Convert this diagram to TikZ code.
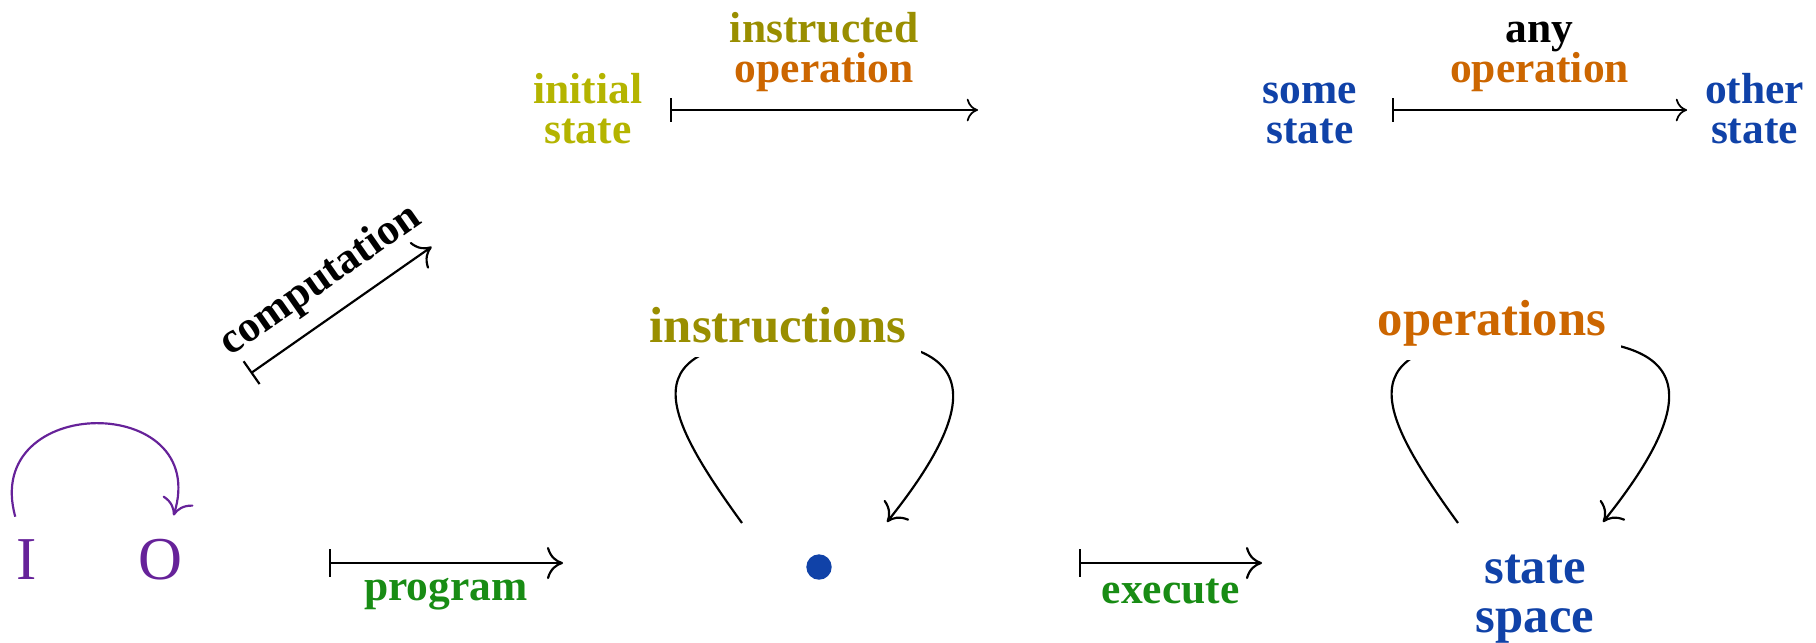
\documentclass[tikz,border=0pt]{standalone}
\usepackage{fontspec}
\setmainfont{Liberation Serif}
\usetikzlibrary{arrows.meta,calc}

\definecolor{iniYellow}{RGB}{180,180,0}
\definecolor{instrOlive}{RGB}{153,142,0}
\definecolor{opOrange}{RGB}{204,102,0}
\definecolor{stBlue}{RGB}{16,66,168}
\definecolor{progGreen}{RGB}{24,140,20}
\definecolor{ioPurple}{RGB}{102,34,153}

\begin{document}
\begin{tikzpicture}[x=0.23pt,y=0.23pt,
  txt/.style={font=\fontsize{10}{9.2}\selectfont\bfseries, align=center, inner sep=3.33pt},
  bigtxt/.style={font=\fontsize{11.66}{11.27}\selectfont\bfseries, align=center, inner sep=3.33pt},
  iotxt/.style={font=\fontsize{14}{16}\selectfont, text=ioPurple, inner sep=3.33pt},
  mapsto/.style={line width=0.5pt, {Bar[width=6.4pt]}-{Computer Modern Rightarrow[length=3.7pt,width=7.4pt]}},
  topmap/.style={line width=0.4pt, {Bar[width=5.3pt]}-{Computer Modern Rightarrow[length=2.6pt,width=5.2pt]}},
  loopline/.style={line width=0.5pt, -{Computer Modern Rightarrow[length=3.7pt,width=7.4pt]}},
]
\useasboundingbox (0,0) rectangle (1816,642);

% ---- top row: single steps (base = baseline of the last line) ----
\coordinate (r1) at (0,532);
\node[txt, text=iniYellow, anchor=base] (ini) at (588,499) {initial\\state};
\coordinate (e1) at (978,532);
\draw[topmap] ([xshift=2.9pt]ini.east |- r1) -- (e1)
  node[midway, above=0.7pt, txt] {\textcolor{instrOlive}{instructed}\\\textcolor{opOrange}{operation}};

\node[txt, text=stBlue, anchor=base] (some) at (1310,499) {some\\state};
\node[txt, text=stBlue, anchor=base] (other) at (1754.5,499) {other\\state};
\draw[topmap] ([xshift=4.5pt]some.east |- r1) -- ([xshift=-0.6pt]other.west |- r1)
  node[midway, above=0.7pt, txt] {any\\\textcolor{opOrange}{operation}};

% ---- input / output ----
\node[iotxt, anchor=base] (I) at (27,63) {I};
\node[iotxt, anchor=base] (O) at (160,63) {O};
\draw[loopline, ioPurple, shorten <=1.7pt, shorten >=1.9pt]
  (I) .. controls (-19,249) and (212,250) .. (O);

% ---- computation ----
\coordinate (c0) at (250.7,268.7);
\coordinate (c1) at (431.7,395.3);
\draw[mapsto] (c0) -- (c1) node[midway, sloped, above, txt] {computation};

% ---- program ----
\coordinate (p0) at (329,79);
\coordinate (p1) at (563,79);
\draw[mapsto] (p0) -- (p1) node[midway, below, txt, text=progGreen] {program};

% ---- program as a point with its instruction loop ----
\node[circle, fill=stBlue, inner sep=0pt, minimum size=5.84pt] (dot) at (819,75) {};
\draw[loopline]
  ([shift={(-77,44)}]dot.center) .. controls +(-88.2,121.4) and +(-180,0) ..
  ([shift={(-7,229)}]dot.center) .. controls +(120,0) and +(131.25,164) ..
  ([shift={(68,45)}]dot.center);
\node[bigtxt, text=instrOlive, fill=white, anchor=base] (ins) at (778,300) {instructions};

% ---- execute ----
\coordinate (x0) at (1079,79);
\coordinate (x1) at (1262,79);
\draw[mapsto] (x0) -- (x1) node[midway, below, txt, text=progGreen] {execute};

% ---- state space with its operation loop ----
\node[bigtxt, text=stBlue, anchor=base] (ss) at (1535,10) {state\\space};
\draw[loopline]
  ([shift={(-77,109)}]ss.base) .. controls +(-88.2,121.4) and +(-180,0) ..
  ([shift={(-7,294)}]ss.base) .. controls +(120,0) and +(131.25,164) ..
  ([shift={(68,110)}]ss.base);
\node[bigtxt, text=opOrange, fill=white, anchor=base] (ops) at (1492,307) {operations};

\end{tikzpicture}
\end{document}
